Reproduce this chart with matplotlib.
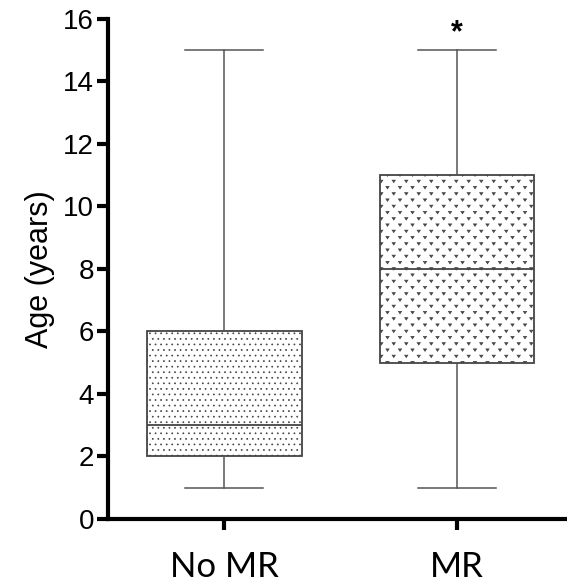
import numpy as np
import matplotlib.pyplot as plt
from matplotlib import hatch as mhatch
from matplotlib.path import Path

groups = ['No MR', 'MR']
whislo = [1, 1]
q1 = [2, 5]
med = [3, 8]
q3 = [6, 11]
whishi = [15, 15]
hatches = ['...', '*']
sig = ['', '*']


# small "v" marks on a staggered grid, used in place of the star hatch
class VHatch(mhatch.HatchPatternBase):
    def __init__(self, hatch, density):
        self.on = hatch.count('*') > 0
        pts = []
        for r in range(17):
            y = r / 16
            xs = np.arange(0, 9) / 8 if r % 2 == 0 else np.arange(1, 16, 2) / 16
            for x in xs:
                pts.append((x, y))
        self.pts = pts if self.on else []
        self.num_vertices = len(self.pts) * 4

    def set_vertices_and_codes(self, vertices, codes):
        k = 0
        for x, y in self.pts:
            vertices[k:k + 4] = [(x - 0.016, y + 0.011), (x + 0.016, y + 0.011),
                                 (x, y - 0.013), (x - 0.016, y + 0.011)]
            codes[k:k + 4] = [Path.MOVETO, Path.LINETO, Path.LINETO, Path.CLOSEPOLY]
            k += 4


mhatch._hatch_types = [h for h in mhatch._hatch_types if h is not mhatch.Stars] + [VHatch]

plt.rcParams['font.family'] = ['Liberation Sans', 'DejaVu Sans']
plt.rcParams['hatch.color'] = '#444444'
plt.rcParams['hatch.linewidth'] = 0.5

fig = plt.figure(figsize=(5.67, 5.84), dpi=100)
ax = fig.add_axes([0.1905, 0.1113, 0.8095, 0.8562])

stats = []
for i, g in enumerate(groups):
    stats.append({'label': g, 'whislo': whislo[i], 'q1': q1[i], 'med': med[i],
                  'q3': q3[i], 'whishi': whishi[i], 'fliers': []})

bp = ax.bxp(stats, positions=[1, 2], widths=0.665, patch_artist=True, showfliers=False,
            boxprops=dict(facecolor='white', edgecolor='#444444', linewidth=1.3),
            medianprops=dict(color='#444444', linewidth=1.3),
            whiskerprops=dict(color='#555555', linewidth=1.1),
            capprops=dict(color='#555555', linewidth=1.1),
            capwidths=0.335)
for patch, h in zip(bp['boxes'], hatches):
    patch.set_hatch(h)

for i, s in enumerate(sig):
    if s:
        ax.text(i + 1, whishi[i] + 0.05, s, ha='center', va='bottom', fontsize=22,
                fontweight='bold')

ax.set_xlim(0.502, 2.472)
ax.set_ylim(0, 16)
ax.set_yticks(range(0, 17, 2))
ax.set_ylabel('Age (years)', fontsize=22, labelpad=6)
ax.set_xticks([1, 2])
ax.set_xticklabels(groups, fontsize=25, family='Lato')
ax.tick_params(axis='y', labelsize=20)

for side in ['top', 'right']:
    ax.spines[side].set_visible(False)
for side in ['left', 'bottom']:
    ax.spines[side].set_linewidth(3)
ax.tick_params(axis='both', width=3, length=8, direction='out')
ax.tick_params(axis='x', pad=15)
ax.tick_params(axis='y', pad=2)

plt.savefig('out.png', dpi=100)
